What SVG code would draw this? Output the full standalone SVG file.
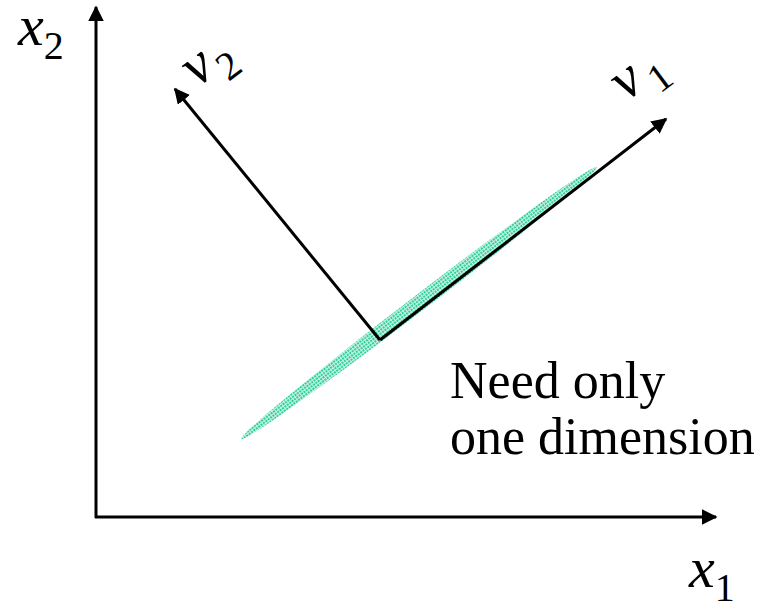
<svg xmlns="http://www.w3.org/2000/svg" width="772" height="604" viewBox="0 0 772 604">
<style>
.ln{stroke:#000;stroke-width:3;fill:none}
.it{font-style:italic;fill:#000}
.rm{fill:#000}
</style>
<defs>
<marker id="ah" viewBox="0 0 10 10" refX="9" refY="5" markerWidth="5.2" markerHeight="5.2" markerUnits="strokeWidth" orient="auto">
<path d="M0,0 L10,5 L0,10 z" fill="#000"/>
</marker>
<pattern id="dots" width="3" height="3" patternUnits="userSpaceOnUse">
<rect width="3" height="3" fill="#c8f2e4"/>
<rect x="0" y="0" width="2" height="2" fill="#2fcf9c"/>
</pattern>
</defs>
<rect width="772" height="604" fill="#fff"/>
<g id="band">
<ellipse cx="419" cy="303" rx="224" ry="8" transform="rotate(-37.4 419 303)" fill="url(#dots)"/>
</g>
<g id="connectors">
<line class="ln" x1="96" y1="518" x2="96" y2="7" marker-end="url(#ah)"/>
<line class="ln" x1="95" y1="517" x2="716" y2="517" marker-end="url(#ah)"/>
<line class="ln" x1="380" y1="340" x2="666" y2="119" marker-end="url(#ah)"/>
<line class="ln" x1="380" y1="340" x2="175" y2="89" marker-end="url(#ah)"/>
</g>
<g font-family="Liberation Serif">
<g id="x2-label">
<text class="it" x="18" y="45" font-size="58">x<tspan font-size="40" font-style="normal" dy="14">2</tspan></text>
</g>
<g id="x1-label">
<text class="it" x="689" y="587" font-size="58">x<tspan font-size="40" font-style="normal" dy="14">1</tspan></text>
</g>
<g id="v2-label">
<text class="it" transform="translate(197,88) rotate(-37)" font-size="58">v<tspan font-size="40" font-style="normal" dx="3" dy="14">2</tspan></text>
</g>
<g id="v1-label">
<text class="it" transform="translate(626,102) rotate(-37)" font-size="58">v<tspan font-size="40" font-style="normal" dx="6" dy="14">1</tspan></text>
</g>
<g id="note">
<text class="rm" x="450" y="398" font-size="52">Need only</text>
<text class="rm" x="450" y="454" font-size="52">one dimension</text>
</g>
</g>
</svg>
